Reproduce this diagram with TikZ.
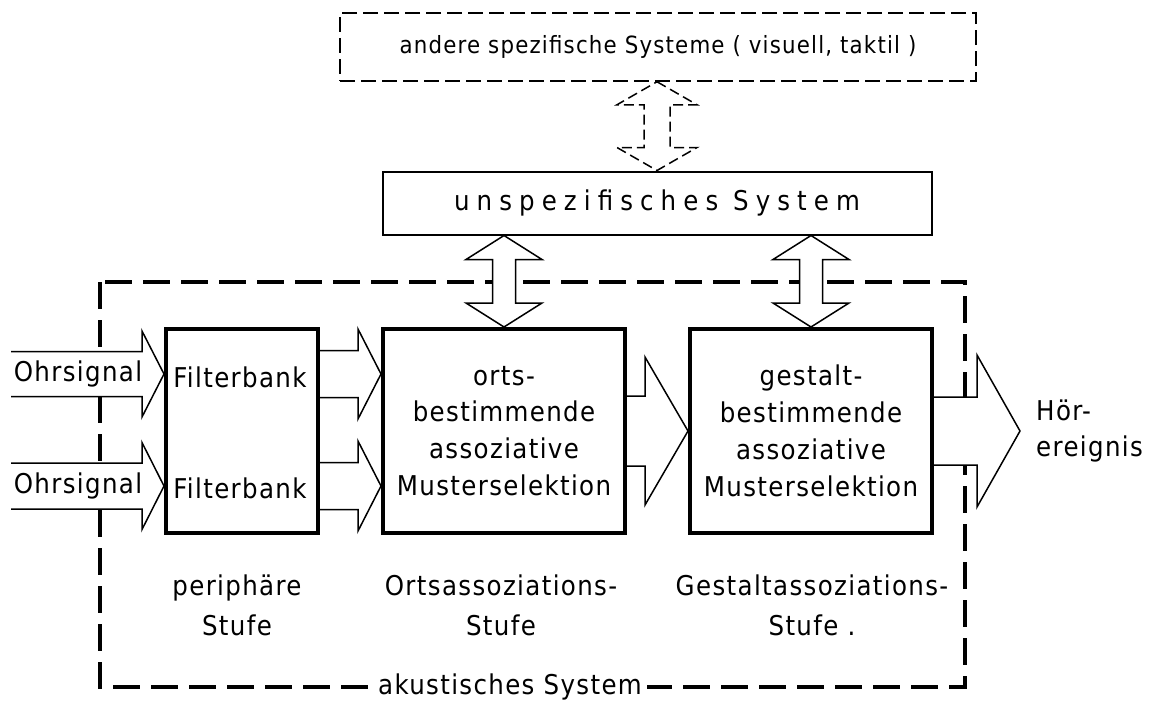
\documentclass[tikz,border=0pt]{standalone}
\usepackage{fontspec}
\setmainfont{DejaVu Sans Condensed}[LetterSpace=5]
\newfontfamily\widefont{DejaVu Sans Condensed}[LetterSpace=26]
\usepackage{tikz}
\usetikzlibrary{calc}
\usetikzlibrary{arrows.meta}
\tikzset{>=stealth}
\tikzset{
  stagebox/.style={draw, line width=0.8mm, minimum width=48.4mm, minimum height=40.8mm, inner sep=0pt, align=center},
  blockarrow/.style={draw, line width=0.3mm, fill=white, line join=miter},
  dashedarrow/.style={draw, line width=0.3mm, fill=white, dash pattern=on 2mm off 1mm},
  akustik/.style={line width=0.75mm, dash pattern=on 5.4mm off 2.2mm},
}
% horizontal block arrow: tail, tip, half shaft, half head, head length
\newcommand{\harrow}[5]{%
  \draw [blockarrow] ($(#1)+(0,-#3)$) -- ($(#2)+(-#5,-#3)$) -- ($(#2)+(-#5,-#4)$) -- (#2)
    -- ($(#2)+(-#5,#4)$) -- ($(#2)+(-#5,#3)$) -- ($(#1)+(0,#3)$);}
% vertical double block arrow: style, upper tip, lower tip, half shaft, half head, head length
\newcommand{\varrow}[6]{%
  \draw [#1] (#2) -- ($(#2)+(#5,#6)$) -- ($(#2)+(#4,#6)$) -- ($(#3)+(#4,-#6)$) -- ($(#3)+(#5,-#6)$) -- (#3)
    -- ($(#3)+(-#5,-#6)$) -- ($(#3)+(-#4,-#6)$) -- ($(#2)+(-#4,#6)$) -- ($(#2)+(-#5,#6)$) -- cycle;}

\begin{document}
\begin{tikzpicture}[x=0.2mm, y=-0.2mm, font=\fontsize{15.5}{21}\selectfont]
        \useasboundingbox (0,0) rectangle (1155,702);

        % akustisches System
        \draw [akustik] (100,282) rectangle (965,687);
        \node[fill=white, inner sep=3pt] (akust) at (510,687) {akustisches System};

        % Systeme oben
        \node[draw, line width=0.3mm, dash pattern=on 3mm off 1.2mm, minimum width=127.2mm, minimum height=13.6mm]
          (other) at (658,47) {\fontsize{13.5}{16}\selectfont andere spezifische Systeme ( visuell, taktil )};
        \node[draw, line width=0.4mm, minimum width=109.8mm, minimum height=12.6mm]
          (unspez) at (657,203) {\widefont unspezifisches System};

        % Stufen
        \node[stagebox, minimum width=30.4mm] (filt) at (242,431) {};
        \node[stagebox] (orts) at (504,431) {orts-\\bestimmende\\assoziative\\Musterselektion};
        \node[stagebox] (gestalt) at (811,431) {gestalt-\\bestimmende\\assoziative\\Musterselektion};

        % Koordinaten der Pfeile
        \coordinate (in1) at (11,374);
        \coordinate (in2) at (11,486);
        \coordinate (fin1) at ($(filt.west)+(0,-57)$);
        \coordinate (fin2) at ($(filt.west)+(0,55)$);
        \coordinate (fout1) at ($(filt.east)+(0,-57)$);
        \coordinate (fout2) at ($(filt.east)+(0,55)$);
        \coordinate (oin1) at ($(orts.west)+(0,-57)$);
        \coordinate (oin2) at ($(orts.west)+(0,55)$);
        \coordinate (hoer) at (1020,431);
        \coordinate (otop) at (orts.north |- unspez.south);
        \coordinate (gtop) at (gestalt.north |- unspez.south);
        \coordinate (utop) at (unspez.north |- other.south);

        % Pfeile
        \harrow{in1}{fin1}{22.5}{43}{22}
        \harrow{in2}{fin2}{23}{43.5}{22}
        \harrow{fout1}{oin1}{23.5}{45}{23}
        \harrow{fout2}{oin2}{23.5}{45}{23}
        \harrow{orts.east}{gestalt.west}{35}{74}{43}
        \harrow{gestalt.east}{hoer}{34}{76}{43}
        \varrow{blockarrow}{otop}{orts.north}{11.5}{38}{24}
        \varrow{blockarrow}{gtop}{gestalt.north}{11.5}{38}{24}
        \varrow{dashedarrow}{utop}{unspez.north}{13}{40}{23}

        % Texte
        \node (ohr1) at (78,374) {Ohrsignal};
        \node (ohr2) at (78,486) {Ohrsignal};
        \node (fb1) at (240,377) {Filterbank};
        \node (fb2) at (240,488) {Filterbank};
        \node[anchor=west, align=left] (ereignis) at (1030,431) {Hör-\\ereignis};

        \node[align=center, font=\fontsize{15.5}{22.7}\selectfont] (stufe1) at (237,605) {periphäre\\Stufe};
        \node[align=center, font=\fontsize{15.5}{22.7}\selectfont] (stufe2) at (501,605) {Ortsassoziations-\\Stufe};
        \node[align=center, font=\fontsize{15.5}{22.7}\selectfont] (stufe3) at (812,605) {Gestaltassoziations-\\Stufe .};
      \end{tikzpicture}
\end{document}
